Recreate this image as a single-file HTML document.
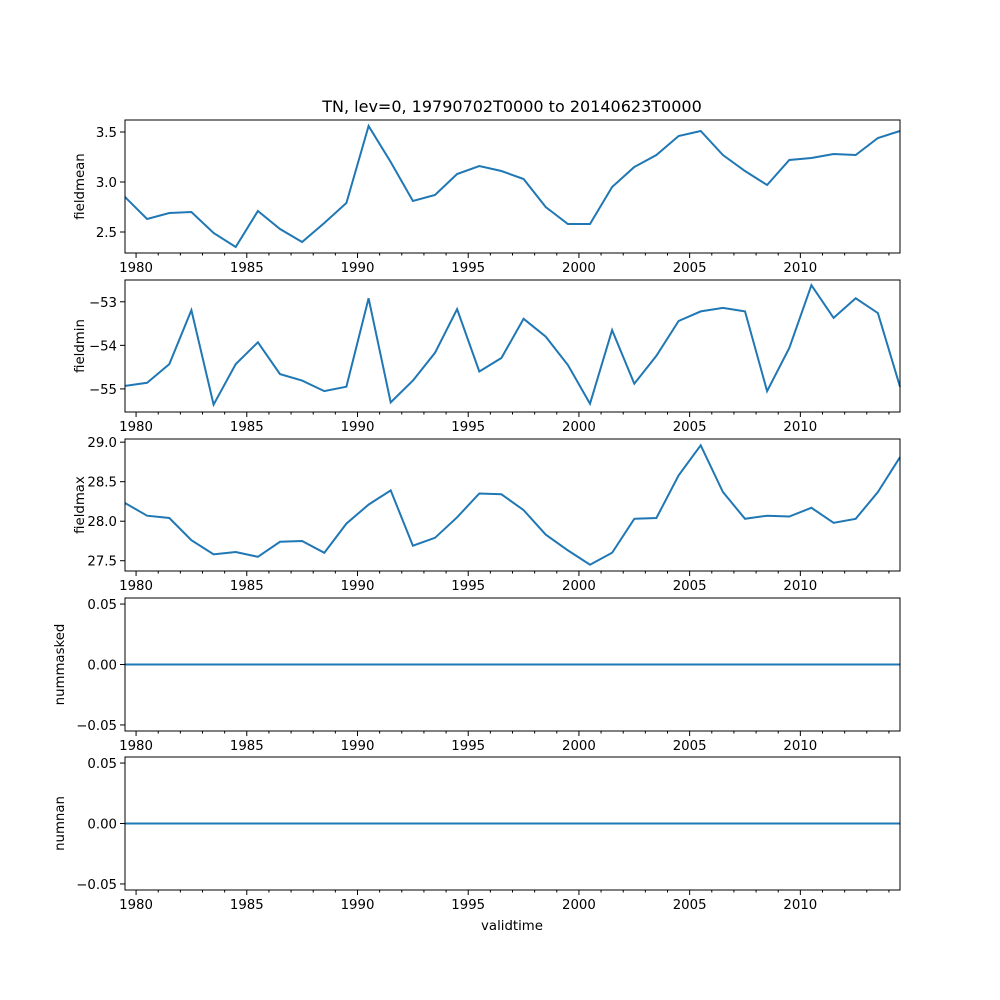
<!DOCTYPE html>
<html><head><meta charset="utf-8"><style>
body{margin:0;background:#fff}
svg{display:block;font-family:"DejaVu Sans","Liberation Sans",sans-serif}
</style></head><body>
<svg id="fig" width="1000" height="1000"></svg>
<script>
const years = [1979,1980,1981,1982,1983,1984,1985,1986,1987,1988,1989,1990,1991,1992,1993,1994,1995,1996,1997,1998,1999,2000,2001,2002,2003,2004,2005,2006,2007,2008,2009,2010,2011,2012,2013,2014];
const fieldmean = [2.85,2.63,2.69,2.70,2.49,2.35,2.71,2.53,2.40,2.59,2.79,3.56,3.20,2.81,2.87,3.08,3.16,3.11,3.03,2.75,2.58,2.58,2.95,3.15,3.27,3.46,3.51,3.27,3.11,2.97,3.22,3.24,3.28,3.27,3.44,3.51];
const fieldmin = [-54.93,-54.86,-54.43,-53.19,-55.36,-54.43,-53.93,-54.66,-54.81,-55.05,-54.95,-52.92,-55.31,-54.81,-54.17,-53.17,-54.60,-54.29,-53.39,-53.80,-54.45,-55.34,-53.65,-54.88,-54.24,-53.44,-53.22,-53.14,-53.22,-55.05,-54.06,-52.62,-53.37,-52.92,-53.26,-54.95];
const fieldmax = [28.23,28.07,28.04,27.76,27.58,27.61,27.55,27.74,27.75,27.60,27.97,28.21,28.39,27.69,27.79,28.05,28.35,28.34,28.14,27.83,27.63,27.45,27.60,28.03,28.04,28.58,28.96,28.37,28.03,28.07,28.06,28.17,27.98,28.03,28.37,28.81];
const nummasked = years.map(()=>0);
const numnan = years.map(()=>0);
const xTicks = [1980,1985,1990,1995,2000,2005,2010];

const NS="http://www.w3.org/2000/svg";
const svg=document.getElementById('fig');
function el(t,a,p){const e=document.createElementNS(NS,t);for(const k in a)e.setAttribute(k,a[k]);(p||svg).appendChild(e);return e;}
const L=125,R=900;
const x=v=>L+(v-1979.5)/(2014.5-1979.5)*(R-L);

const panels=[
 {name:'fieldmean',data:fieldmean,top:120,bot:253,ymin:2.29,ymax:3.62,ticks:[2.5,3.0,3.5],fmt:v=>v.toFixed(1)},
 {name:'fieldmin',data:fieldmin,top:280,bot:412,ymin:-55.53,ymax:-52.50,ticks:[-55,-54,-53],fmt:v=>'\u2212'+Math.abs(v)},
 {name:'fieldmax',data:fieldmax,top:439,bot:571,ymin:27.37,ymax:29.04,ticks:[27.5,28.0,28.5,29.0],fmt:v=>v.toFixed(1)},
 {name:'nummasked',data:nummasked,top:598,bot:731,ymin:-0.055,ymax:0.055,ticks:[-0.05,0,0.05],fmt:v=>(v<0?'\u2212':'')+Math.abs(v).toFixed(2)},
 {name:'numnan',data:numnan,top:757,bot:890,ymin:-0.055,ymax:0.055,ticks:[-0.05,0,0.05],fmt:v=>(v<0?'\u2212':'')+Math.abs(v).toFixed(2)}
];
const t=el('text',{x:512,y:112,'text-anchor':'middle','font-size':'16'});


t.textContent='TN, lev=0, 19790702T0000 to 20140623T0000';

panels.forEach(p=>{
 const g=el('g',{});
 
 
 const y=v=>p.bot-(v-p.ymin)/(p.ymax-p.ymin)*(p.bot-p.top);
 const pts=p.data.map((v,i)=>x(years[i]+0.5).toFixed(1)+','+y(v).toFixed(1)).join(' ');
 const pl=el('polyline',{points:pts,fill:'none',stroke:'#1f77b4','stroke-width':2},g);
 
 
 const fr=el('rect',{x:L,y:p.top,width:R-L,height:p.bot-p.top,fill:'none',stroke:'#000','stroke-width':1},g);
 
 
 p.ticks.forEach(v=>{
  const yy=y(v);
  el('line',{x1:L-5,x2:L,y1:yy,y2:yy,stroke:'#000'},g);
  const tl=el('text',{x:L-8,y:yy+5,'text-anchor':'end','font-size':'13.3'},g);
  
  
  tl.textContent=p.fmt(v);
 });
 for(let yr=1980;yr<=2014;yr++){
  const xx=x(yr);
  const major=xTicks.includes(yr);
  el('line',{x1:xx,x2:xx,y1:p.bot,y2:p.bot+(major?5:2.5),stroke:'#000'},g);
 }
 xTicks.forEach(yr=>{
  const tl=el('text',{x:x(yr),y:p.bot+19,'text-anchor':'middle','font-size':'13.3'},g);
  
  
  tl.textContent=yr;
 });
 const lx=p.name.startsWith('num')?64:84;
 const cy=(p.top+p.bot)/2;
 const yl=el('text',{x:lx,y:cy,'text-anchor':'middle','font-size':'13.3',transform:`rotate(-90 ${lx} ${cy})`},g);
 
 
 yl.textContent=p.name;
});
const xl=el('text',{x:512,y:930,'text-anchor':'middle','font-size':'13.3'});


xl.textContent='validtime';
</script>
</body></html>
